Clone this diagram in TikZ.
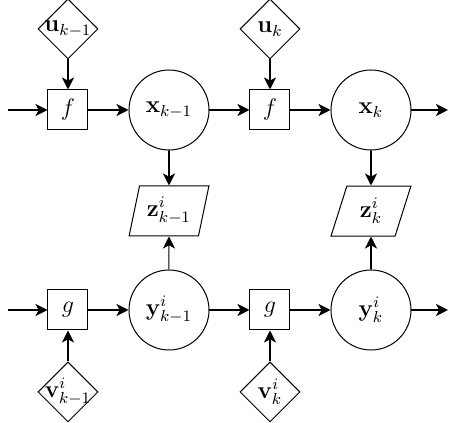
\documentclass[tikz,border=0pt]{standalone}
\usepackage{tikz}
\usetikzlibrary{positioning, arrows.meta, shapes.geometric}
\usepackage{amsmath,amssymb}

\begin{document}
\begin{tikzpicture}[
    x=0.5pt, y=0.5pt,
    >={Stealth[length=6pt, width=6pt, inset=1.6pt]},
    node distance=20pt,
    every node/.style={font=\fontsize{12}{14}\selectfont},
    func/.style={
        rectangle, draw=black, line width=0.5pt,
        minimum width=20pt, minimum height=20pt, inner sep=0pt
    },
    state/.style={
        circle, draw=black, line width=0.5pt,
        minimum size=40pt, inner sep=0pt
    },
    noise/.style={
        diamond, draw=black, line width=0.5pt,
        minimum width=30pt, minimum height=30pt, inner sep=-3pt
    },
    meas/.style={
        trapezium, trapezium left angle=74, trapezium right angle=106,
        trapezium stretches=true, draw=black, line width=0.5pt,
        minimum width=40pt, minimum height=25pt, inner sep=0pt
    },
    arr/.style={line width=0.9pt, ->},
    tarr/.style={line width=0.5pt, ->},
]

\useasboundingbox (0,0) rectangle (457,423);

% Top row: state chain
\node[func] (f1) at (68,313) {$f$};
\node[state, right=of f1] (x1) {$\mathbf{x}_{k-1}$};
\node[func, right=of x1] (f2) {$f$};
\node[state, right=of f2] (x2) {$\mathbf{x}_{k}$};

\node[noise, above=15pt of f1] (u1) {$\mathbf{u}_{k-1}$};
\node[noise, above=15pt of f2] (u2) {$\mathbf{u}_{k}$};

% Bottom row: sensor chain
\node[func] (g1) at (68,113) {$g$};
\node[state, right=of g1] (y1) {$\mathbf{y}^{i}_{k-1}$};
\node[func, right=of y1] (g2) {$g$};
\node[state, right=of g2] (y2) {$\mathbf{y}^{i}_{k}$};

\node[noise, below=15.5pt of g1] (v1) {$\mathbf{v}^{i}_{k-1}$};
\node[noise, below=15.5pt of g2] (v2) {$\mathbf{v}^{i}_{k}$};

% Measurements in between
\node[meas, below=17.5pt of x1] (z1) {$\mathbf{z}^{i}_{k-1}$};
\node[meas, below=17.5pt of x2] (z2) {$\mathbf{z}^{i}_{k}$};

% Free ends
\coordinate (xin) at (8,313);
\coordinate (xout) at (448,313);
\coordinate (yin) at (8,113);
\coordinate (yout) at (448,113);

% Top arrows
\draw[arr] (xin) -- (f1);
\draw[arr] (f1) -- (x1);
\draw[arr] (x1) -- (f2);
\draw[arr] (f2) -- (x2);
\draw[arr] (x2) -- (xout);
\draw[arr] (u1) -- (f1);
\draw[arr] (u2) -- (f2);

% Bottom arrows
\draw[arr] (yin) -- (g1);
\draw[arr] (g1) -- (y1);
\draw[arr] (y1) -- (g2);
\draw[arr] (g2) -- (y2);
\draw[arr] (y2) -- (yout);
\draw[arr] (v1) -- (g1);
\draw[arr] (v2) -- (g2);

% Into the measurements
\draw[arr] (x1) -- (z1);
\draw[arr] (x2) -- (z2);
\draw[tarr] (y1) -- (z1);
\draw[arr] (y2) -- (z2);

\end{tikzpicture}
\end{document}
